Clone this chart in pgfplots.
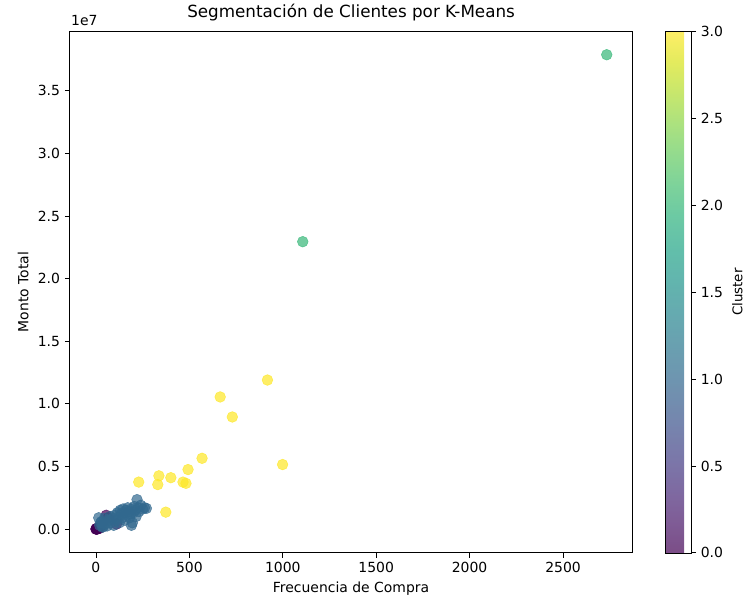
\documentclass[border=0pt]{standalone}
\usepackage{fontspec}
\setmainfont{DejaVu Sans}
\usepackage{pgfplots}
\usepackage{pgfplotstable}
\pgfplotsset{compat=1.18}
\pgfplotstableread{
x y c
0 0 0
3 20000 0
5 50000 0
8 10000 0
10 80000 0
2 5000 0
15 120000 0
20 60000 0
1 2000 0
4 30000 0
6 0 0
12 40000 0
30 300000 0
55 1100000 0
65 900000 0
110 400000 0
15 900000 1
25 500000 1
40 200000 1
20 300000 1
30 600000 1
35 150000 1
45 850000 1
50 400000 1
60 250000 1
70 700000 1
75 1000000 1
80 500000 1
90 850000 1
95 300000 1
100 1100000 1
110 700000 1
115 1300000 1
120 950000 1
125 500000 1
130 1500000 1
135 1200000 1
140 900000 1
145 1600000 1
150 1300000 1
155 700000 1
160 1500000 1
165 1100000 1
170 1700000 1
175 1400000 1
180 900000 1
185 1200000 1
190 300000 1
190 1600000 1
195 500000 1
200 1300000 1
205 1800000 1
210 1500000 1
215 1000000 1
220 2350000 1
225 1700000 1
230 1400000 1
240 1900000 1
250 1600000 1
260 1700000 1
270 1650000 1
1107 22950000 2
2734 37880000 2
918 11900000 3
665 10550000 3
730 8950000 3
568 5650000 3
999 5150000 3
493 4750000 3
337 4250000 3
401 4100000 3
466 3750000 3
482 3650000 3
331 3550000 3
229 3750000 3
374 1350000 3
}\datatable
\begin{document}
\begin{tikzpicture}
\begin{axis}[
  name=main,
  width=420pt, height=389pt, scale only axis,
  xmin=-141, xmax=2872, ymin=-1900000, ymax=39740000,
  xtick={0,500,1000,1500,2000,2500},
  ytick={0,5000000,10000000,15000000,20000000,25000000,30000000,35000000},
  yticklabels={0.0,0.5,1.0,1.5,2.0,2.5,3.0,3.5},
  scaled y ticks=false, scaled x ticks=false,
  /pgf/number format/assume math mode=true,
  /pgf/number format/1000 sep={},
  tick align=outside, tick pos=left,
  major tick length=3.6pt,
  every tick/.style={black, line width=0.6pt},
  axis line style={line width=0.6pt},
  tick label style={font=\fontsize{10.4}{12}\selectfont},
  label style={font=\fontsize{10.4}{12}\selectfont},
  title style={font=\fontsize{12.5}{14}\selectfont, yshift=-2pt},
  title={Segmentación de Clientes por K-Means},
  xlabel={Frecuencia de Compra},
  ylabel={Monto Total},
  colormap/viridis,
  point meta min=0, point meta max=3,
  colorbar,
  colorbar shift/.style={xshift=24pt},
  colorbar style={
    width=19.5pt,
    ytick={0,0.5,1,1.5,2,2.5,3},
    yticklabel style={/pgf/number format/.cd, fixed, fixed zerofill, precision=1, assume math mode=true},
    ylabel={Cluster},
    tick align=outside,
    ytick pos=right,
    major tick length=3.6pt,
    every axis plot/.append style={opacity=0.7},
  },
]
\addplot[scatter, only marks, scatter src=explicit, mark=*, mark size=4pt,
  scatter/use mapped color={draw=mapped color, fill=mapped color},
  opacity=0.7] table[x=x, y=y, meta=c] {\datatable};
\end{axis}
\node[anchor=south west, font=\fontsize{10.4}{12}\selectfont, inner sep=0pt] at ([xshift=1pt,yshift=4pt]main.north west) {1e7};
\path (current bounding box.west) ++(-10pt,0);
\end{tikzpicture}
\end{document}
